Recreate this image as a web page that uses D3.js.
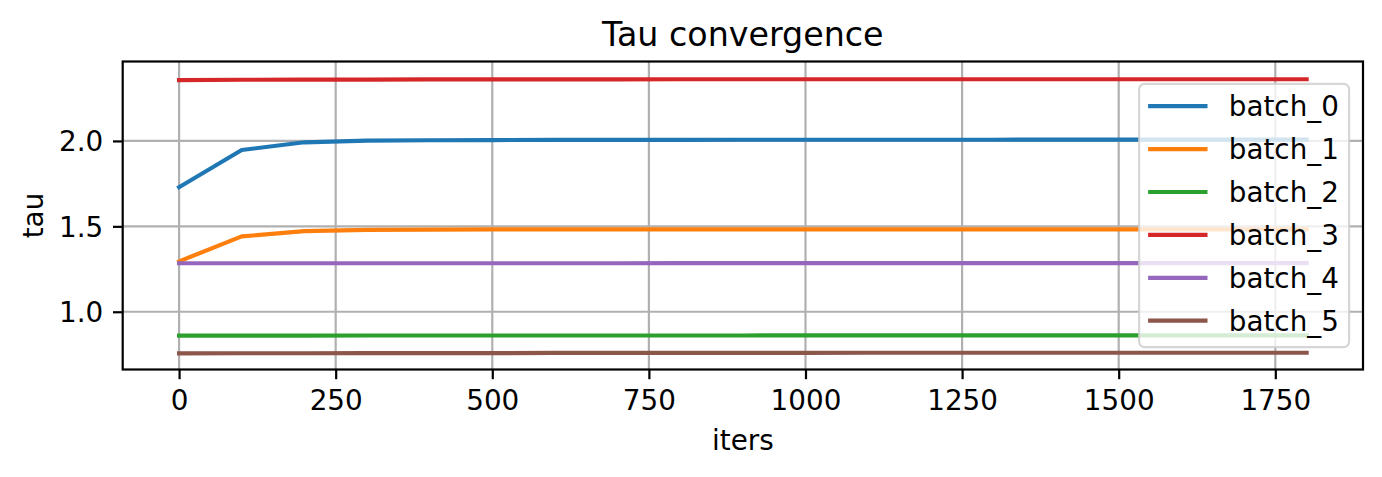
<!DOCTYPE html>
<html>
<head>
<meta charset="utf-8">
<script src="https://cdn.jsdelivr.net/npm/d3@7"></script>
<style>
  body { margin: 0; background: #fff; }
  text { font-family: "DejaVu Sans", sans-serif; fill: #000; }
</style>
</head>
<body>
<svg id="chart" width="1382" height="477"></svg>
<script>
// iterations on x
var iters = [0, 100, 200, 300, 400, 500, 600, 700, 800, 900, 1000, 1100, 1200, 1300, 1400, 1500, 1600, 1700, 1800];

var seriesNames = ["batch_0", "batch_1", "batch_2", "batch_3", "batch_4", "batch_5"];
var colors = ["#1f77b4", "#ff7f0e", "#2ca02c", "#d62728", "#9467bd", "#8c564b"];

var batch0 = [1.729, 1.947, 1.992, 2.002, 2.004, 2.005, 2.006, 2.006, 2.006, 2.007, 2.007, 2.007, 2.007, 2.007, 2.008, 2.008, 2.008, 2.008, 2.008];
var batch1 = [1.295, 1.441, 1.472, 1.479, 1.481, 1.482, 1.482, 1.482, 1.482, 1.482, 1.482, 1.482, 1.482, 1.482, 1.482, 1.482, 1.482, 1.482, 1.482];
var batch2 = [0.860, 0.860, 0.860, 0.861, 0.861, 0.861, 0.861, 0.861, 0.861, 0.861, 0.862, 0.862, 0.862, 0.862, 0.862, 0.862, 0.862, 0.862, 0.862];
var batch3 = [2.356, 2.358, 2.359, 2.359, 2.360, 2.360, 2.360, 2.360, 2.361, 2.361, 2.361, 2.361, 2.361, 2.361, 2.361, 2.361, 2.361, 2.361, 2.361];
var batch4 = [1.284, 1.284, 1.284, 1.284, 1.284, 1.284, 1.284, 1.284, 1.285, 1.285, 1.285, 1.285, 1.285, 1.285, 1.285, 1.285, 1.285, 1.285, 1.285];
var batch5 = [0.756, 0.757, 0.757, 0.758, 0.758, 0.758, 0.759, 0.759, 0.759, 0.759, 0.759, 0.760, 0.760, 0.760, 0.760, 0.760, 0.760, 0.760, 0.760];
var allSeries = [batch0, batch1, batch2, batch3, batch4, batch5];

var xTicks = [0, 250, 500, 750, 1000, 1250, 1500, 1750];
var yTicks = [1.0, 1.5, 2.0];
var xDomain = [-90, 1890];
var yDomain = [0.662, 2.465];

var WIDTH = 1382, HEIGHT = 477;
var MARGINS = {top: 61.5, right: 19, bottom: 107.5, left: 122.7};
var fs = 27.8;

var svg = d3.select('#chart');

var xRange = d3.scaleLinear().domain(xDomain).range([MARGINS.left, WIDTH - MARGINS.right]);
var yRange = d3.scaleLinear().domain(yDomain).range([HEIGHT - MARGINS.bottom, MARGINS.top]);

var x0 = MARGINS.left, x1 = WIDTH - MARGINS.right;
var y0 = MARGINS.top, y1 = HEIGHT - MARGINS.bottom;

// grid
var grid = svg.append('g');
xTicks.forEach(function(t){
    grid.append('line')
        .attr('x1', xRange(t)).attr('x2', xRange(t))
        .attr('y1', y0).attr('y2', y1)
        .style('stroke', '#b0b0b0').style('stroke-width', 2.2);
});
yTicks.forEach(function(t){
    grid.append('line')
        .attr('x1', x0).attr('x2', x1)
        .attr('y1', yRange(t)).attr('y2', yRange(t))
        .style('stroke', '#b0b0b0').style('stroke-width', 2.2);
});

// lines
var lineFunc = d3.line()
    .x(function(d, i) { return xRange(iters[i]); })
    .y(function(d) { return yRange(d); });

svg.append('defs').append('clipPath').attr('id', 'clip')
  .append('rect').attr('x', x0).attr('y', y0).attr('width', x1 - x0).attr('height', y1 - y0);

var lines = svg.append('g').attr('clip-path', 'url(#clip)');
for (var i = 0; i < allSeries.length; i++) {
    lines.append('path')
        .attr('d', lineFunc(allSeries[i]))
        .attr('stroke', colors[i])
        .attr('stroke-width', 4.17)
        .attr('stroke-linecap', 'square')
        .attr('stroke-linejoin', 'round')
        .attr('fill', 'none');
}

// axes
var xAxis = d3.axisBottom(xRange).tickValues(xTicks).tickSize(9.7).tickPadding(9.7)
    .tickFormat(d3.format('d'));
var yAxis = d3.axisLeft(yRange).tickValues(yTicks).tickSize(9.7).tickPadding(9.7)
    .tickFormat(d3.format('.1f'));

var gx = svg.append('g').attr('transform', 'translate(0,' + y1 + ')').call(xAxis);
var gy = svg.append('g').attr('transform', 'translate(' + x0 + ',0)').call(yAxis);
[gx, gy].forEach(function(g){
    g.select('.domain').remove();
    g.selectAll('.tick line').style('stroke', '#000').style('stroke-width', 2.2);
    g.selectAll('.tick text').style('font-size', fs + 'px')
        .style('font-family', '"DejaVu Sans", sans-serif').attr('fill', '#000');
});
gx.selectAll('.tick text').attr('dy', '0.76em');
gy.selectAll('.tick text').attr('dy', '0.36em');

// spines
svg.append('rect')
    .attr('x', x0).attr('y', y0).attr('width', x1 - x0).attr('height', y1 - y0)
    .style('fill', 'none').style('stroke', '#000').style('stroke-width', 2.2);

// labels
svg.append('text')
    .attr('x', (x0 + x1) / 2).attr('y', 45.5)
    .attr('text-anchor', 'middle')
    .style('font-size', '33.3px')
    .text('Tau convergence');

svg.append('text')
    .attr('x', (x0 + x1) / 2).attr('y', 450)
    .attr('text-anchor', 'middle')
    .style('font-size', fs + 'px')
    .text('iters');

svg.append('text')
    .attr('transform', 'translate(43,' + ((y0 + y1) / 2) + ') rotate(-90)')
    .attr('text-anchor', 'middle')
    .style('font-size', fs + 'px')
    .text('tau');

// legend (center right)
var legW = 210, legH = 263.4;
var legX = x1 - 13.9 - legW;
var legY = (y0 + y1) / 2 - legH / 2;
var legend = svg.append('g');
legend.append('rect')
    .attr('x', legX).attr('y', legY).attr('width', legW).attr('height', legH)
    .attr('rx', 5.5).attr('ry', 5.5)
    .style('fill', 'rgba(255,255,255,0.8)')
    .style('stroke', 'rgba(204,204,204,0.8)')
    .style('stroke-width', 2.2);
var rowH = 42.9;
seriesNames.forEach(function(name, i){
    var cy = legY + 22.4 + i * rowH;
    legend.append('line')
        .attr('x1', legX + 9).attr('x2', legX + 68.4)
        .attr('y1', cy).attr('y2', cy)
        .style('stroke', colors[i]).style('stroke-width', 4.17);
    legend.append('text')
        .attr('x', legX + 89.7).attr('y', cy)
        .attr('dy', '0.36em')
        .style('font-size', fs + 'px')
        .text(name);
});
</script>
</body>
</html>
